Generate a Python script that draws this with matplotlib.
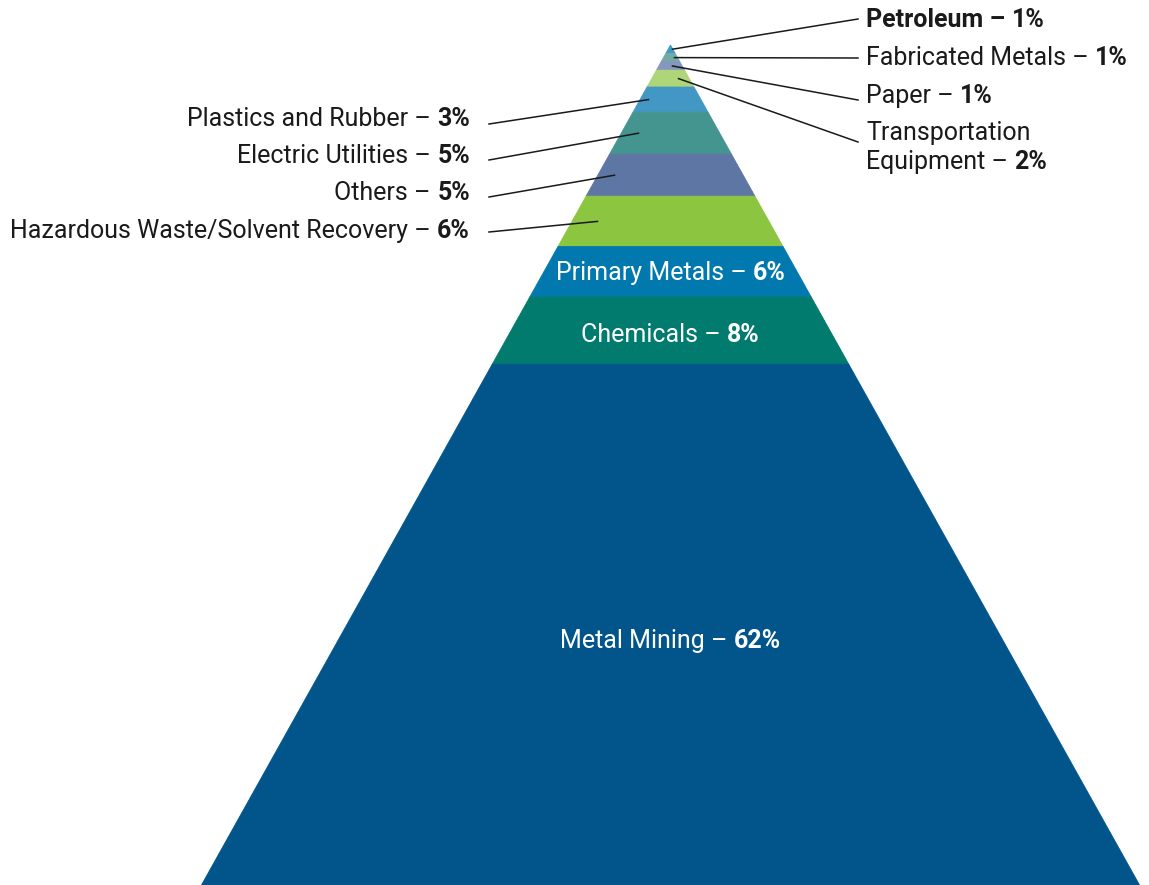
import matplotlib.pyplot as plt
from matplotlib.patches import Polygon
import numpy as np

plt.rcParams['font.family'] = ['Roboto', 'DejaVu Sans']

# layers from the top of the pyramid down
sectors = ['Petroleum', 'Fabricated Metals', 'Paper', 'Transportation\nEquipment',
           'Plastics and Rubber', 'Electric Utilities', 'Others',
           'Hazardous Waste/Solvent Recovery', 'Primary Metals', 'Chemicals', 'Metal Mining']
shares = [1, 1, 1, 2, 3, 5, 5, 6, 6, 8, 62]
colors = ['#3c9bcb', '#74a9a5', '#8596bf', '#aed678', '#4397c5', '#44948f',
          '#5e76a3', '#8cc540', '#0179ae', '#007b6d', '#01558b']

# where each label goes: 'right', 'left' or 'inside'
placement = ['right', 'right', 'right', 'right', 'left', 'left', 'left', 'left',
             'inside', 'inside', 'inside']
# horizontal offset of the leader line end from the pyramid axis
leader_dx = [2, 4, 2, 8, -22, -32, -56, -73, 0, 0, 0]

W, H = 1149, 885
fig = plt.figure(figsize=(W / 100, H / 100), dpi=100)
ax = fig.add_axes([0, 0, 1, 1])
ax.set_xlim(0, W)
ax.set_ylim(H, 0)
ax.axis('off')

cx, top, bottom, half_base = 670.5, 45, 885, 469
scale = (bottom - top) / sum(shares)
edges = top + np.concatenate([[0], np.cumsum(shares)]) * scale


def half_width(y):
    return half_base * (y - top) / (bottom - top)


for i, (share, col) in enumerate(zip(shares, colors)):
    y0, y1 = edges[i], edges[i + 1]
    w0, w1 = half_width(y0), half_width(y1)
    pts = [(cx - w0, y0), (cx + w0, y0), (cx + w1, y1), (cx - w1, y1)]
    ax.add_patch(Polygon(pts, closed=True, facecolor=col, edgecolor=col, lw=0.6))

fs = 18
ink = '#1a1a1a'
right_y = [20, 58, 96, 162]
left_y = [119, 156, 193, 231]
right_line_y = [19, 58, 100, 142]
left_line_y = [124, 160, 197, 232]
inside_y = [273, 335, 641]

fig.canvas.draw()
renderer = fig.canvas.get_renderer()
inv = ax.transData.inverted()


def text_width(t):
    bb = t.get_window_extent(renderer)
    (x0, _), (x1, _) = inv.transform([(bb.x0, 0), (bb.x1, 0)])
    return x1 - x0


def pair(x, y, name, pct, align, color, name_weight='normal'):
    # name in regular weight followed by the share in bold, on one baseline
    a = ax.text(x, y, name + ' – ', ha='left', va='center', fontsize=fs,
                color=color, weight=name_weight)
    b = ax.text(x, y, pct, ha='left', va='center', fontsize=fs,
                color=color, weight='bold')
    wa, wb = text_width(a), text_width(b)
    if align == 'right':
        start = x - wa - wb
    elif align == 'center':
        start = x - (wa + wb) / 2
    else:
        start = x
    a.set_x(start)
    b.set_x(start + wa)


ri = li = ii = 0
for i, name in enumerate(sectors):
    pct = f'{shares[i]}%'
    mid = (edges[i] + edges[i + 1]) / 2
    where = placement[i]
    if where == 'right':
        lines = name.split('\n')
        y = right_y[ri]
        for k, extra in enumerate(lines[:-1]):
            ax.text(866, y - 29 * (len(lines) - 1 - k), extra, ha='left', va='center',
                    fontsize=fs, color=ink)
        pair(866, y, lines[-1], pct, 'left', ink,
             'bold' if name == 'Petroleum' else 'normal')
        ax.plot([858, cx + leader_dx[i]], [right_line_y[ri], mid], color=ink, lw=1.1)
        ri += 1
    elif where == 'left':
        pair(470, left_y[li], name, pct, 'right', ink)
        ax.plot([489, cx + leader_dx[i]], [left_line_y[li], mid], color=ink, lw=1.1)
        li += 1
    else:
        pair(cx, inside_y[ii], name, pct, 'center', 'white')
        ii += 1

fig.savefig('out.png', dpi=100)
